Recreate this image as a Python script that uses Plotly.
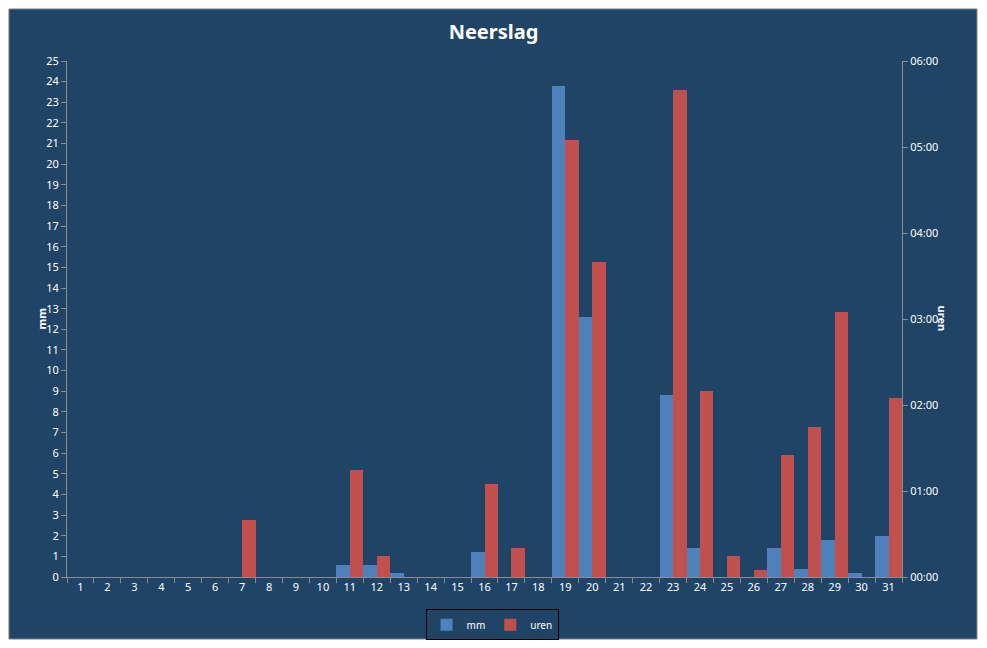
import plotly.graph_objects as go

# dagen van de maand
dagen = [str(d) for d in range(1, 32)]

# neerslag in mm per dag
mm = [0, 0, 0, 0, 0, 0, 0, 0, 0, 0,
      0.6, 0.6, 0.2, 0, 0, 1.2, 0, 0, 23.8, 12.6,
      0, 0, 8.8, 1.4, 0, 0, 1.4, 0.4, 1.8, 0.2, 2.0]

# neerslagduur per dag (uu:mm)
uren = ["0:00", "0:00", "0:00", "0:00", "0:00", "0:00", "0:40", "0:00", "0:00", "0:00",
        "1:15", "0:15", "0:00", "0:00", "0:00", "1:05", "0:20", "0:00", "5:05", "3:40",
        "0:00", "0:00", "5:40", "2:10", "0:15", "0:05", "1:25", "1:45", "3:05", "0:00", "2:05"]

uur_ticks = ["00:00", "01:00", "02:00", "03:00", "04:00", "05:00", "06:00"]


def naar_uren(t):
    h, m = t.split(":")
    return int(h) + int(m) / 60


uren_num = [naar_uren(t) for t in uren]

BG = "#1F4466"
AXIS = "#8C8C8C"
FONT = "Noto Sans"

fig = go.Figure()
fig.add_trace(go.Bar(x=dagen, y=mm, name="mm", marker_color="#4F81BD",
                     marker_line_width=0, offsetgroup="mm", yaxis="y"))
fig.add_trace(go.Bar(x=dagen, y=uren_num, name="uren", marker_color="#C0504D",
                     marker_line_width=0, offsetgroup="uren", yaxis="y2"))

# donkerblauw vlak met grijze rand
fig.add_shape(type="rect", xref="paper", yref="paper",
              x0=-0.0695, x1=1.0898, y0=-0.1202, y1=1.1008,
              fillcolor=BG, line=dict(color="#7F7F7F", width=1), layer="below")

fig.update_layout(
    width=971, height=632,
    margin=dict(l=59, r=77, t=53, b=63),
    paper_bgcolor="white",
    plot_bgcolor=BG,
    barmode="group", bargap=0, bargroupgap=0,
    font=dict(family=FONT, size=11, color="white"),
    title=dict(text="<b>Neerslag</b>", x=0.5, xanchor="center", y=0.962, yanchor="middle",
               font=dict(family=FONT, size=20, color="white")),
    xaxis=dict(type="category", tickson="boundaries", ticks="outside", ticklen=5,
               tickcolor=AXIS, showline=True, linecolor=AXIS, showgrid=False,
               tickfont=dict(size=11, color="white"), zeroline=False),
    yaxis=dict(range=[0, 25], dtick=1, ticks="outside", ticklen=5, tickcolor=AXIS,
               showline=True, linecolor=AXIS, showgrid=False, zeroline=False,
               tickfont=dict(size=11, color="white")),
    yaxis2=dict(overlaying="y", side="right", range=[0, 6], tickvals=list(range(7)),
                ticktext=uur_ticks, ticks="outside", ticklen=5, tickcolor=AXIS,
                showline=True, linecolor=AXIS, showgrid=False, zeroline=False,
                tickfont=dict(size=11, color="white")),
    legend=dict(orientation="h", xref="container", yref="container",
                x=0.4985, xanchor="center", y=0.024, yanchor="middle",
                bgcolor=BG, bordercolor="black", borderwidth=1, itemwidth=30,
                font=dict(size=10, color="white")),
    annotations=[
        dict(text="<b>mm</b>", xref="paper", yref="paper", x=-0.042, y=0.5,
             textangle=-90, showarrow=False, font=dict(size=11, color="white")),
        dict(text="<b>uren</b>", xref="paper", yref="paper", x=1.061, y=0.5,
             textangle=90, showarrow=False, font=dict(size=11, color="white")),
    ],
)

fig.write_html("out.html")
